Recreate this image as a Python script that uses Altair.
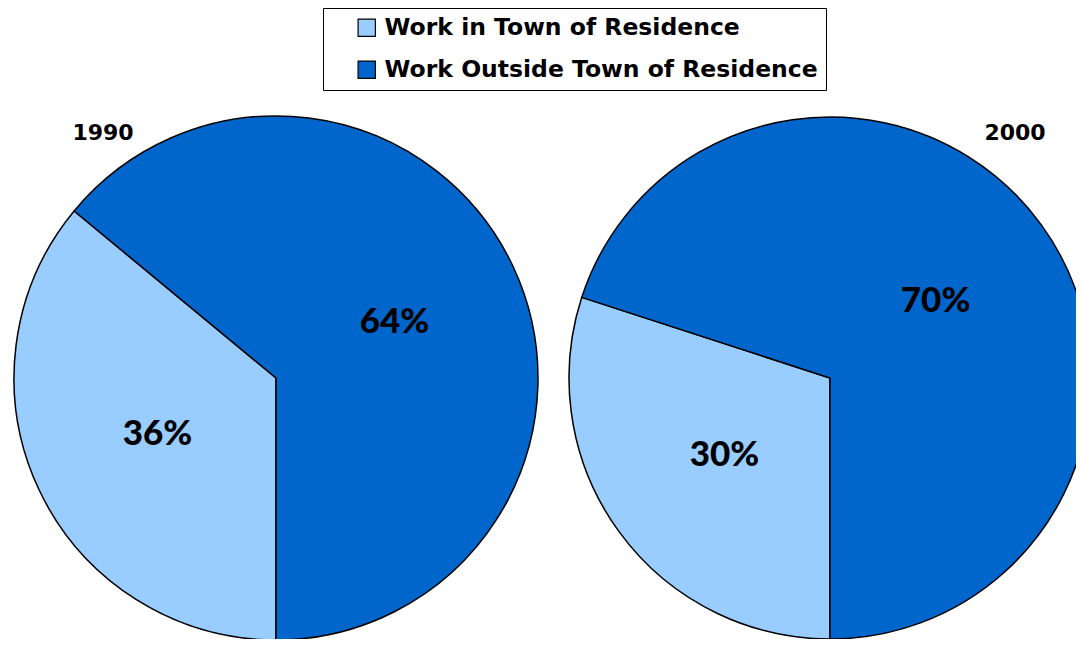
import math
import altair as alt
import pandas as pd

years = ["1990", "1990", "2000", "2000"]
categories = ["Work in Town of Residence", "Work Outside Town of Residence",
              "Work in Town of Residence", "Work Outside Town of Residence"]
values = [36, 64, 30, 70]
order = [0, 1, 0, 1]
labels = ["36%", "64%", "30%", "70%"]

cat_domain = ["Work in Town of Residence", "Work Outside Town of Residence"]
cat_colors = ["#99CCFF", "#0066CC"]

df = pd.DataFrame({"year": years, "category": categories, "value": values,
                   "order": order, "label": labels})

theta_scale = alt.Scale(range=[math.pi, 3 * math.pi])

color = alt.Color(
    "category:N",
    scale=alt.Scale(domain=cat_domain, range=cat_colors),
    legend=alt.Legend(
        title=None, orient="none", legendX=315, legendY=0,
        direction="vertical", fillColor="white", strokeColor="black",
        padding=8, symbolOffset=24, labelOffset=6,
        labelFont="DejaVu Sans", labelFontWeight="bold", labelFontSize=23.5,
        labelColor="black", labelLimit=0,
        symbolType="square", symbolSize=300, symbolStrokeColor="black",
        symbolStrokeWidth=1.2, rowPadding=17,
    ),
)

pies = {"1990": (268, 370, 262, 95), "2000": (822, 370, 261, 1007)}

layers = []
for yr, (cx, cy, r, lx) in pies.items():
    base = alt.Chart(df).transform_filter(alt.datum.year == yr)
    arc = base.mark_arc(radius=r, stroke="black", strokeWidth=1.5).encode(
        theta=alt.Theta("value:Q", stack=True, scale=theta_scale),
        color=color,
        order=alt.Order("order:Q"),
        x=alt.value(cx), y=alt.value(cy),
    )
    txt = base.mark_text(radius=r / 2, font="Lato", fontWeight=900,
                         fontSize=35, color="black", baseline="middle").encode(
        theta=alt.Theta("value:Q", stack=True, scale=theta_scale),
        order=alt.Order("order:Q"),
        text="label:N",
        x=alt.value(cx), y=alt.value(cy),
    )
    ttl = base.transform_filter(alt.datum.order == 0).mark_text(
        font="DejaVu Sans", fontWeight="bold", fontSize=22, color="black",
        align="center", baseline="alphabetic").encode(
        text="year:N", x=alt.value(lx), y=alt.value(132),
    )
    layers += [arc, txt, ttl]

chart = alt.layer(*layers).properties(
    width=1068, height=631, padding=0,
    autosize=alt.AutoSizeParams(type="none"),
).configure_view(stroke=None)

chart.save("out.html", embed_options={"renderer": "svg", "actions": False})
